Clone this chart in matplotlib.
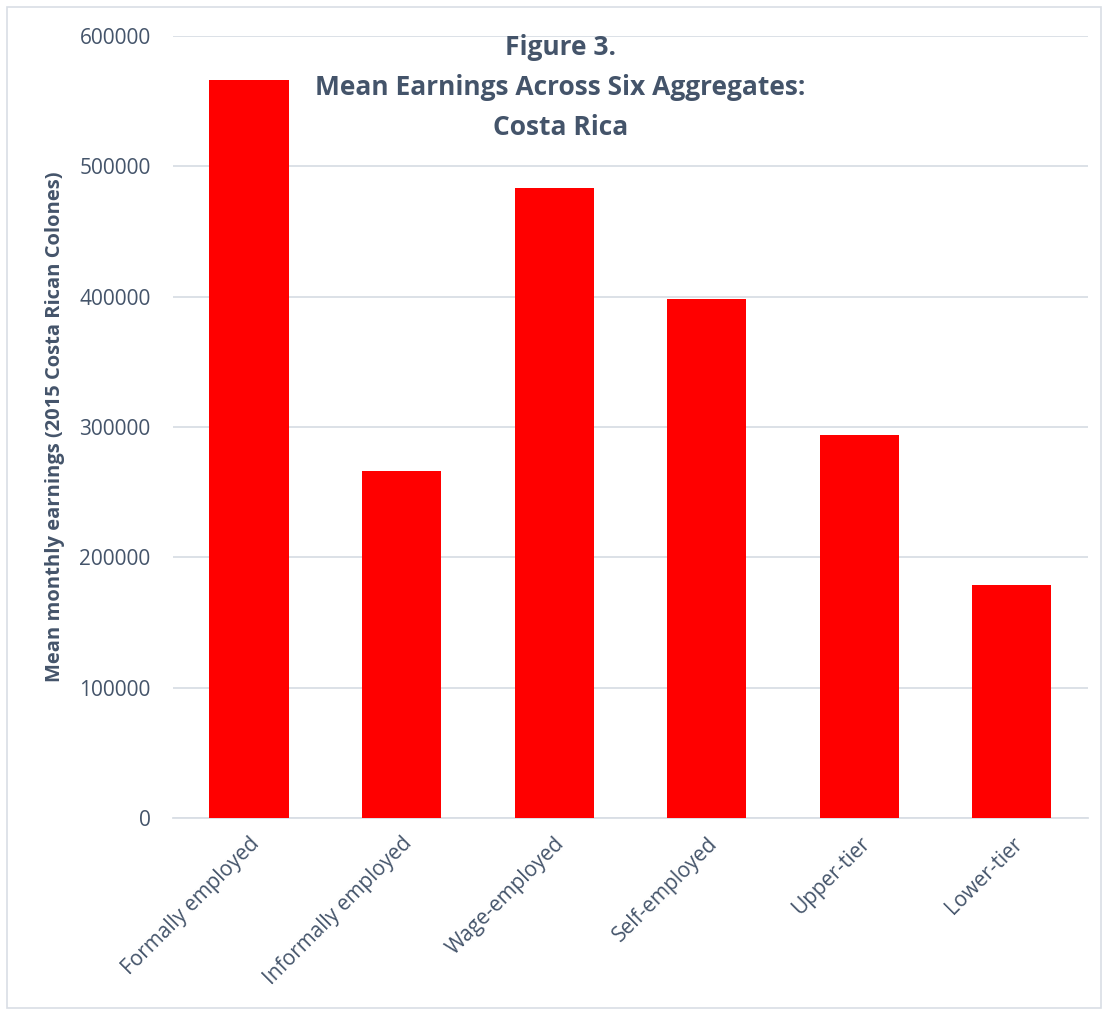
import matplotlib.pyplot as plt
from matplotlib.patches import Rectangle

categories = ["Formally employed", "Informally employed", "Wage-employed",
              "Self-employed", "Upper-tier", "Lower-tier"]
earnings = [566500, 266500, 483500, 398500, 293500, 178500]
yticks = [0, 100000, 200000, 300000, 400000, 500000, 600000]

text_color = "#44546A"
grid_color = "#D9DEE5"

plt.rcParams["font.family"] = ["Open Sans", "DejaVu Sans"]

fig = plt.figure(figsize=(11.08, 10.11), dpi=100)
ax = fig.add_axes([0.156, 0.191, 0.826, 0.7735])

x = range(len(categories))
ax.bar(x, earnings, width=0.52, color="#FF0000", zorder=3)

ax.set_xlim(-0.5, len(categories) - 0.5)
ax.set_ylim(0, 600000)
ax.set_yticks(yticks)
ax.set_yticklabels([str(v) for v in yticks])
ax.set_xticks(list(x))
ax.set_xticklabels(categories, rotation=45, ha="right", rotation_mode="anchor")

ax.tick_params(axis="both", length=0, labelsize=15, colors=text_color)
ax.tick_params(axis="y", pad=16)
ax.tick_params(axis="x", pad=11)
ax.grid(axis="y", color=grid_color, linewidth=1.3, zorder=0)
for side in ["top", "right", "left"]:
    ax.spines[side].set_visible(False)
ax.spines["bottom"].set_color(grid_color)
ax.spines["bottom"].set_linewidth(1.3)

ax.set_ylabel("Mean monthly earnings (2015 Costa Rican Colones)",
              fontsize=14.5, fontweight="bold", color=text_color, labelpad=10)

fig.text(0.506, 0.966, "Figure 3.\nMean Earnings Across Six Aggregates:\nCosta Rica",
         ha="center", va="top", fontsize=19, fontweight="bold",
         color=text_color, linespacing=1.62)

# thin frame around the whole chart
fig.patches.append(Rectangle((0.006, 0.003), 0.988, 0.990, transform=fig.transFigure,
                             fill=False, edgecolor=grid_color, linewidth=1.2))

fig.savefig("out.png", dpi=100)
